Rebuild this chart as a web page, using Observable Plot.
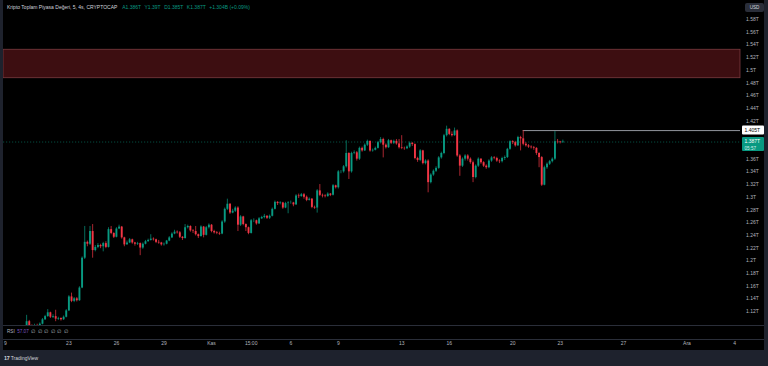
<!DOCTYPE html>
<html><head><meta charset="utf-8">
<script src="https://cdn.jsdelivr.net/npm/d3@7"></script>
<script src="https://cdn.jsdelivr.net/npm/@observablehq/plot@0.6"></script>
<style>
html,body{margin:0;padding:0;background:#1e222d;width:768px;height:366px;overflow:hidden;font-family:"Liberation Sans",Arial,sans-serif;}
#chart{position:absolute;left:3px;top:0;width:761px;height:350px;background:#000;overflow:hidden;}
#chart svg{position:absolute;left:0;top:0;overflow:visible;}
#hdr{position:absolute;left:4px;top:4px;font-size:5px;color:#d1d4dc;white-space:pre;line-height:6px;}
#hdr .g{color:#089981;margin-left:3.5px;}
#usd{position:absolute;left:742px;top:3px;width:19px;height:9px;background:#2a2e39;border-radius:2px;color:#d1d4dc;font-size:4.6px;line-height:9px;text-align:center;}
.sep{position:absolute;left:0;width:761px;height:1px;background:#2a2e39;}
#rsi{position:absolute;left:4px;top:329px;font-size:4.6px;color:#b2b5be;white-space:pre;line-height:6px;}
#rsi .p{color:#7e57c2;}
#foot{position:absolute;left:4px;top:355px;font-size:5px;color:#d1d4dc;white-space:pre;line-height:7px;}
#foot b{font-weight:900;font-size:5.4px;letter-spacing:-0.3px;}
</style></head>
<body>
<div id="chart">
  <div class="sep" style="top:325px"></div>
  <div class="sep" style="top:339px"></div>
</div>
<div id="foot"><b>17</b> TradingView</div>
<script>
// ---- data (values in trillions USD, 4h candles) ----
const seriesTitle = "Kripto Toplam Piyasa Değeri, 5, 4s, CRYPTOCAP";
const headerItems = ["A1.386T", "Y1.39T", "D1.385T", "K1.387T", "+1.304B (+0.09%)"];
const firstCandleTime = "2023-10-20T08:00:00Z";
const barHours = 4;
const firstOpen = 1.096;
const closes = [
 1.104,1.097,1.094,1.098,1.097,1.100,1.107,1.112,1.118,1.111,
 1.112,1.108,1.109,1.107,1.111,1.121,1.143,1.136,1.140,1.137,
 1.157,1.204,1.229,1.226,1.246,1.216,1.221,1.224,1.222,1.227,
 1.221,1.249,1.243,1.237,1.250,1.253,1.236,1.225,1.228,1.233,
 1.228,1.226,1.227,1.220,1.226,1.230,1.232,1.234,1.233,1.229,
 1.228,1.225,1.226,1.231,1.236,1.242,1.245,1.244,1.237,1.235,
 1.252,1.254,1.247,1.246,1.241,1.238,1.253,1.240,1.252,1.256,
 1.246,1.244,1.243,1.242,1.261,1.281,1.289,1.275,1.278,1.283,
 1.256,1.269,1.257,1.252,1.243,1.263,1.263,1.258,1.266,1.268,
 1.270,1.267,1.270,1.281,1.292,1.290,1.291,1.283,1.290,1.291,
 1.291,1.288,1.302,1.301,1.304,1.300,1.295,1.297,1.284,1.283,
 1.310,1.303,1.302,1.301,1.305,1.303,1.318,1.315,1.340,1.340,
 1.348,1.369,1.340,1.369,1.370,1.360,1.377,1.373,1.382,1.388,
 1.373,1.374,1.377,1.386,1.391,1.382,1.378,1.389,1.385,1.388,
 1.384,1.378,1.377,1.3765,1.379,1.385,1.383,1.361,1.358,1.373,
 1.353,1.357,1.323,1.335,1.341,1.3455,1.362,1.369,1.397,1.407,
 1.399,1.397,1.4045,1.365,1.349,1.360,1.365,1.360,1.3545,1.331,
 1.349,1.360,1.3545,1.349,1.3465,1.357,1.362,1.361,1.357,1.356,
 1.361,1.3625,1.3755,1.3875,1.386,1.381,1.394,1.392,1.3835,1.381,
 1.379,1.378,1.377,1.369,1.3625,1.319,1.3465,1.352,1.356,1.360,
 1.3875,1.387,1.386,1.387
];
const highs = [
 1.114,1.106,1.099,1.100,1.100,1.102,1.109,1.114,1.123,1.119,
 1.115,1.122,1.111,1.110,1.113,1.123,1.145,1.149,1.142,1.142,
 1.159,1.206,1.254,1.231,1.254,1.257,1.224,1.227,1.226,1.229,
 1.230,1.252,1.254,1.244,1.252,1.256,1.254,1.237,1.231,1.235,
 1.234,1.229,1.229,1.228,1.228,1.232,1.234,1.241,1.236,1.234,
 1.232,1.229,1.228,1.232,1.238,1.244,1.248,1.247,1.246,1.238,
 1.257,1.256,1.255,1.249,1.254,1.242,1.255,1.254,1.254,1.258,
 1.257,1.248,1.246,1.245,1.263,1.283,1.297,1.290,1.281,1.285,
 1.285,1.271,1.270,1.258,1.253,1.265,1.266,1.264,1.268,1.270,
 1.273,1.271,1.272,1.283,1.294,1.293,1.293,1.292,1.292,1.293,
 1.294,1.292,1.304,1.305,1.306,1.306,1.302,1.299,1.298,1.286,
 1.312,1.320,1.305,1.304,1.307,1.306,1.320,1.319,1.342,1.342,
 1.350,1.389,1.370,1.371,1.373,1.372,1.379,1.379,1.384,1.390,
 1.389,1.376,1.379,1.388,1.394,1.393,1.384,1.391,1.390,1.390,
 1.391,1.391,1.397,1.379,1.381,1.387,1.386,1.384,1.363,1.375,
 1.374,1.359,1.359,1.337,1.343,1.348,1.364,1.371,1.399,1.412,
 1.408,1.403,1.409,1.406,1.367,1.362,1.367,1.367,1.362,1.357,
 1.351,1.362,1.361,1.356,1.351,1.359,1.364,1.364,1.363,1.359,
 1.363,1.365,1.377,1.389,1.389,1.388,1.396,1.396,1.405,1.386,
 1.383,1.381,1.380,1.378,1.370,1.364,1.349,1.354,1.358,1.362,
 1.4035,1.391,1.388,1.390
];
const lows = [
 1.094,1.093,1.090,1.092,1.095,1.096,1.099,1.106,1.111,1.109,
 1.109,1.104,1.106,1.105,1.106,1.110,1.120,1.134,1.134,1.135,
 1.136,1.156,1.202,1.222,1.224,1.204,1.214,1.219,1.219,1.214,
 1.219,1.220,1.241,1.235,1.236,1.249,1.234,1.222,1.224,1.227,
 1.226,1.223,1.224,1.208,1.218,1.225,1.229,1.231,1.231,1.227,
 1.226,1.223,1.223,1.225,1.230,1.235,1.241,1.242,1.235,1.232,
 1.234,1.250,1.245,1.243,1.239,1.235,1.237,1.236,1.239,1.250,
 1.244,1.242,1.241,1.240,1.241,1.259,1.279,1.273,1.274,1.276,
 1.246,1.254,1.255,1.246,1.241,1.242,1.260,1.256,1.257,1.265,
 1.266,1.265,1.265,1.269,1.280,1.287,1.288,1.281,1.282,1.274,
 1.289,1.285,1.287,1.298,1.300,1.297,1.293,1.294,1.282,1.281,
 1.275,1.301,1.299,1.299,1.300,1.301,1.302,1.313,1.313,1.337,
 1.338,1.346,1.328,1.338,1.367,1.357,1.358,1.371,1.372,1.380,
 1.371,1.371,1.373,1.376,1.384,1.362,1.376,1.377,1.383,1.383,
 1.382,1.376,1.375,1.374,1.375,1.377,1.380,1.359,1.355,1.356,
 1.351,1.351,1.307,1.321,1.333,1.339,1.344,1.360,1.367,1.395,
 1.397,1.395,1.396,1.363,1.333,1.347,1.357,1.357,1.352,1.323,
 1.329,1.347,1.352,1.347,1.344,1.345,1.355,1.359,1.355,1.353,
 1.354,1.358,1.361,1.374,1.383,1.379,1.380,1.373,1.381,1.379,
 1.377,1.376,1.374,1.366,1.3465,1.317,1.318,1.344,1.350,1.354,
 1.358,1.384,1.384,1.385
];
const supplyZone = {low: 1.4875, high: 1.5323};
const resistanceLevel = 1.405;
const resistanceStartBar = 188;
const lastPrice = 1.387;
const countdownText = "05:57";
const yTicks = [1.12,1.14,1.16,1.18,1.20,1.22,1.24,1.26,1.28,1.30,1.32,1.34,1.36,1.42,1.44,1.46,1.48,1.50,1.52,1.54,1.56,1.58];
const yTickLabels = ["1.12T","1.14T","1.16T","1.18T","1.2T","1.22T","1.24T","1.26T","1.28T","1.3T","1.32T","1.34T","1.36T","1.42T","1.44T","1.46T","1.48T","1.5T","1.52T","1.54T","1.56T","1.58T"];
const xTickDates = ["2023-10-19T00:00:00Z","2023-10-23T00:00:00Z","2023-10-26T00:00:00Z","2023-10-29T00:00:00Z","2023-11-01T00:00:00Z","2023-11-03T12:00:00Z","2023-11-06T00:00:00Z","2023-11-09T00:00:00Z","2023-11-13T00:00:00Z","2023-11-16T00:00:00Z","2023-11-20T00:00:00Z","2023-11-23T00:00:00Z","2023-11-27T00:00:00Z","2023-12-01T00:00:00Z","2023-12-04T00:00:00Z"];
const xTickLabels = ["9","23","26","29","Kas","15:00","6","9","13","16","20","23","27","Ara","4"];
const rsiLabel = "RSI";
const rsiValue = "57.07";
const rsiHidden = ["∅","∅","∅","∅","∅","∅"];

// ---- build ----
const GREEN = "#089981", RED = "#f23645";
const t0 = new Date(firstCandleTime).getTime();
const candles = closes.map((c, i) => ({
  t: new Date(t0 + i * barHours * 3600e3),
  o: i === 0 ? firstOpen : closes[i - 1],
  h: highs[i], l: lows[i], c
}));
candles.forEach(d => d.col = d.c >= d.o ? GREEN : RED);

const xDomain = [new Date("2023-10-18T21:00:00Z"), new Date("2023-12-04T09:00:00Z")];
const yDomain = [1.098, 1.6099];
const xTicks = xTickDates.map(s => new Date(s));
const xLab = new Map(xTicks.map((d, i) => [+d, xTickLabels[i]]));
const yLab = new Map(yTicks.map((v, i) => [v, yTickLabels[i]]));

const zone = [{x1: xDomain[0], x2: xDomain[1], y1: supplyZone.low, y2: supplyZone.high}];
const resLine = [{y: resistanceLevel, x1: candles[resistanceStartBar].t, x2: xDomain[1]}];

const plot = Plot.plot({
  width: 761, height: 350,
  marginLeft: 0, marginRight: 24, marginTop: 0, marginBottom: 25,
  style: {background: "transparent", fontFamily: "'Liberation Sans', Arial, sans-serif", fontSize: "5px", color: "#b2b5be", overflow: "visible"},
  x: {type: "utc", domain: xDomain},
  y: {domain: yDomain},
  marks: [
    Plot.rect(zone, {x1: "x1", x2: "x2", y1: "y1", y2: "y2", fill: "#f23645", fillOpacity: 0.25, stroke: "#7a3b40", strokeWidth: 0.8}),
    Plot.ruleY([lastPrice], {stroke: GREEN, strokeOpacity: 0.7, strokeDasharray: "1.2,1.8", strokeWidth: 0.7}),
    Plot.ruleY(resLine, {y: "y", x1: "x1", x2: "x2", stroke: "#a3a6af", strokeWidth: 0.9}),
    Plot.ruleX(candles, {x: "t", y1: "l", y2: "h", stroke: "col", strokeWidth: 0.7, clip: true}),
    Plot.ruleX(candles, {x: "t", y1: "o", y2: "c", stroke: "col", strokeWidth: 1.9, clip: true}),
    Plot.axisY(yTicks, {anchor: "right", tickSize: 0, tickPadding: 5.5, tickFormat: d => yLab.get(d), fill: "#b2b5be", fontSize: 5}),
    Plot.axisX(xTicks, {anchor: "bottom", tickSize: 0, tickPadding: 16, tickFormat: d => xLab.get(+d), fill: "#b2b5be", fontSize: 5})
  ]
});
document.getElementById("chart").appendChild(plot);

// price labels on the price scale, positioned through the plot's y scale
const ys = plot.scale("y");
const svg = d3.select(plot);
const g = svg.append("g").attr("text-anchor", "start").attr("font-family", "'Liberation Sans', Arial, sans-serif");
const yr = ys.apply(resistanceLevel);
g.append("rect").attr("x", 739).attr("y", yr - 4.5).attr("width", 22).attr("height", 9).attr("rx", 1).attr("fill", "#ffffff");
g.append("text").attr("x", 741.5).attr("y", yr).attr("dy", "0.35em").attr("font-size", 5).attr("fill", "#000").text(resistanceLevel.toFixed(3) + "T");
const yp = ys.apply(lastPrice);
g.append("rect").attr("x", 739).attr("y", yp - 4.5).attr("width", 22).attr("height", 14).attr("rx", 1).attr("fill", GREEN);
g.append("text").attr("x", 741.5).attr("y", yp).attr("dy", "0.35em").attr("font-size", 5).attr("fill", "#fff").text(lastPrice.toFixed(3) + "T");
g.append("text").attr("x", 741.5).attr("y", yp + 6.5).attr("dy", "0.35em").attr("font-size", 4.6).attr("fill", "#d8f0ec").text(countdownText);

// header, USD button, RSI legend
const chart = document.getElementById("chart");
const hdr = document.createElement("div"); hdr.id = "hdr";
hdr.innerHTML = seriesTitle + " " + headerItems.map(s => '<span class="g">' + s + '</span>').join("");
chart.appendChild(hdr);
const usd = document.createElement("div"); usd.id = "usd"; usd.textContent = "USD"; chart.appendChild(usd);
const rsi = document.createElement("div"); rsi.id = "rsi";
rsi.innerHTML = rsiLabel + '  <span class="p">' + rsiValue + '</span>  ' + rsiHidden.join("  ");
chart.appendChild(rsi);
</script>
</body></html>
